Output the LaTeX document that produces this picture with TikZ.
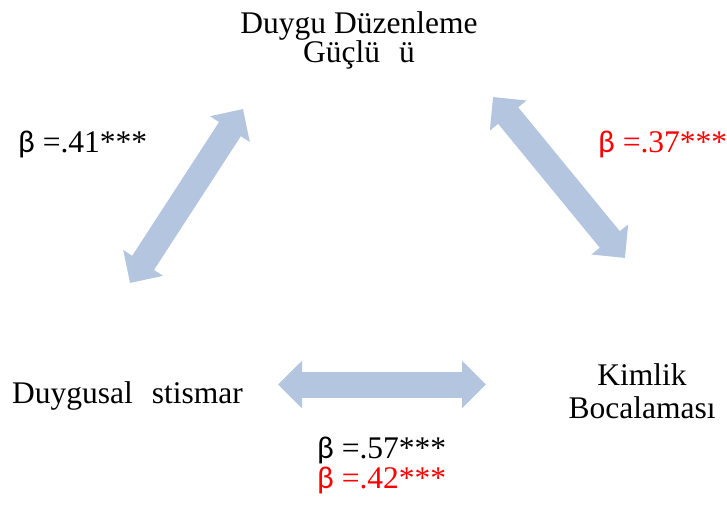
\documentclass[tikz,border=0pt]{standalone}
\usepackage{fontspec}
\setmainfont{Liberation Serif}
\newfontfamily\betafont{Carlito}
\usetikzlibrary{arrows.meta}
\definecolor{arrowblue}{RGB}{180,197,223}
\definecolor{betared}{RGB}{255,0,0}
\tikzset{
  lbl/.style={inner sep=0pt, font=\fontsize{31.5}{31.5}\selectfont},
  bigarrow/.style={line width=26pt, draw=arrowblue,
    {Triangle[width=46pt,length=24pt]}-{Triangle[width=46pt,length=24pt]}},
}
\begin{document}
\begin{tikzpicture}[x=1pt,y=-1pt]
\useasboundingbox (0,0) rectangle (727,509);
% labels
\node[lbl,anchor=base] (dd1) at (359,33) {Duygu Düzenleme};
\node[lbl,anchor=base] (dd2) at (359,62) {Güçlü\hspace{0.6em}ü};
\node[lbl,anchor=base west] (di) at (12,403) {Duygusal\hspace{0.6em}stismar};
\node[lbl,anchor=base] (kb1) at (642,385) {Kimlik};
\node[lbl,anchor=base] (kb2) at (642,418) {Bocalaması};
% coefficients
\node[lbl,anchor=base west] (b41) at (18,152) {{\betafont β} =.41***};
\node[lbl,anchor=base west,text=betared] (b37) at (598,152) {{\betafont β} =.37***};
\node[lbl,anchor=base west] (b57) at (317,458) {{\betafont β} =.57***};
\node[lbl,anchor=base west,text=betared] (b42) at (317,488) {{\betafont β} =.42***};
% arrow end points
\coordinate (la) at (130,283);
\coordinate (lb) at (243,109);
\coordinate (ra) at (493,97);
\coordinate (rb) at (625,258);
\coordinate (ha) at (278,384.5);
\coordinate (hb) at (486,384.5);
\draw[bigarrow] (la) -- (lb);
\draw[bigarrow] (ra) -- (rb);
\draw[bigarrow] (ha) -- (hb);
\end{tikzpicture}
\end{document}
